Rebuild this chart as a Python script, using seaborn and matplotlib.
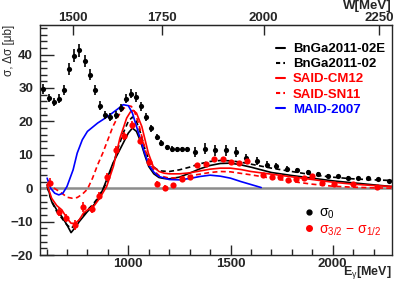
import numpy as np
import pandas as pd
import seaborn as sns
import matplotlib
matplotlib.use("Agg")
import matplotlib.pyplot as plt
from matplotlib.lines import Line2D

# --- data ---
# sigma_0 (black points)
E_sig0 = [582, 610, 636, 662, 687, 712, 736, 761, 789, 812, 836, 861, 887, 911, 938,
          964, 987, 1012, 1038, 1062, 1087, 1113, 1138, 1162, 1189, 1213, 1240, 1264,
          1289, 1327, 1375, 1424, 1478, 1527, 1576, 1628, 1677, 1723, 1775, 1827, 1878,
          1930, 1978, 2024, 2073, 2122, 2171, 2223, 2275]
sig0 = [29.7, 27.0, 25.8, 26.8, 29.4, 35.8, 39.7, 41.3, 38.0, 34.0, 29.3, 24.7, 21.9, 21.3, 22.0,
        24.0, 26.8, 28.3, 27.3, 24.5, 21.2, 17.9, 15.3, 13.5, 12.2, 11.7, 11.6, 11.6,
        11.6, 10.8, 11.8, 11.3, 11.3, 10.7, 9.0, 8.0, 7.0, 6.5, 5.7, 5.3, 4.7,
        4.3, 3.8, 3.7, 3.2, 3.0, 3.0, 2.7, 2.2]
sig0_err = [1.4, 1.3, 1.3, 1.3, 1.5, 1.8, 2.0, 2.0, 1.8, 1.6, 1.5, 1.3, 1.2, 1.2, 1.2,
            1.3, 1.3, 1.4, 1.4, 1.3, 1.2, 1.0, 1.0, 0.9, 0.8, 0.8, 0.8, 0.8,
            0.8, 1.6, 1.6, 1.6, 1.6, 1.5, 1.3, 1.2, 1.0, 0.9, 0.8, 0.7, 0.6,
            0.6, 0.5, 0.4, 0.4, 0.3, 0.3, 0.3, 0.3]

# sigma_3/2 - sigma_1/2 (red points)
E_dsig = [615, 659, 697, 738, 779, 820, 857, 897, 938, 979, 1020, 1059, 1100, 1140, 1180,
          1221, 1263, 1302, 1338, 1380, 1419, 1462, 1501, 1542, 1582, 1660, 1702, 1742,
          1780, 1820, 1860, 1897, 1949, 2008, 2098, 2215]
dsig = [1.7, -7.1, -8.9, -11.1, -5.6, -6.2, -2.3, 3.3, 11.4, 15.6, 19.0, 14.2, 7.7, 1.3, 0.2,
        0.9, 2.7, 3.5, 7.0, 7.3, 8.8, 8.8, 7.8, 7.5, 8.0, 4.0, 3.3, 3.5,
        2.5, 2.8, 3.0, 3.7, 1.7, 1.2, 1.3, 0.5]
dsig_err = [1.3, 1.2, 1.2, 1.5, 1.5, 1.3, 1.2, 1.2, 1.2, 1.2, 1.2, 1.0, 1.0, 0.8, 0.8,
            0.8, 0.6, 0.6, 0.5, 0.5, 0.5, 0.5, 0.5, 0.5, 0.5, 0.4, 0.4, 0.4,
            0.4, 0.4, 0.4, 0.4, 0.4, 0.4, 0.4, 0.4]

# model curves
E_bnga_e = [603, 625, 650, 675, 700, 720, 740, 760, 780, 800, 825, 850, 875, 900, 925, 950,
            975, 1000, 1020, 1040, 1060, 1080, 1100, 1125, 1150, 1175, 1200, 1250, 1300,
            1350, 1400, 1450, 1500, 1550, 1600, 1650, 1700, 1800, 1900, 2000, 2100, 2200, 2290]
bnga_e = [1.0, -4.0, -6.5, -8.5, -11.0, -13.3, -11.8, -10.0, -8.5, -7.0, -5.5, -3.5, -0.5, 3.5,
          7.5, 10.5, 13.5, 16.5, 18.0, 17.0, 14.0, 10.0, 6.5, 4.3, 3.2, 2.9, 2.8, 3.3, 4.5,
          5.8, 6.8, 7.4, 7.5, 7.0, 6.3, 5.5, 4.7, 3.8, 3.0, 2.2, 1.6, 1.0, 0.5]

E_bnga = [603, 625, 650, 675, 700, 720, 740, 760, 780, 800, 825, 850, 875, 900, 925, 950,
          975, 1000, 1020, 1040, 1060, 1080, 1100, 1125, 1150, 1200, 1250, 1300, 1350, 1400,
          1450, 1500, 1550, 1600, 1700, 1800, 1900, 2000, 2100, 2200, 2290]
bnga = [0.5, -4.0, -7.0, -9.0, -11.0, -12.0, -11.0, -9.5, -8.0, -6.5, -5.0, -3.0, -0.5, 2.5,
        7.0, 12.0, 16.5, 20.0, 21.3, 20.0, 16.5, 12.0, 8.5, 6.3, 5.2, 5.0, 5.5, 6.3, 7.3, 8.0,
        8.3, 8.2, 7.8, 7.2, 6.0, 5.0, 4.0, 3.3, 2.8, 2.5, 2.3]

E_cm12 = [603, 625, 650, 675, 700, 720, 740, 760, 780, 800, 830, 860, 894, 927, 959, 992,
          1010, 1024, 1040, 1066, 1082, 1098, 1122, 1150, 1175, 1200, 1250, 1300, 1400,
          1450, 1500, 1550, 1600, 1700, 1800, 1900, 2000, 2100, 2200, 2290]
cm12 = [1.0, -3.0, -5.2, -6.5, -9.0, -10.5, -10.5, -9.5, -7.5, -6.5, -5.5, -3.0, 0.5, 6.5,
        15.0, 21.0, 22.8, 23.3, 22.5, 18.5, 14.5, 10.5, 6.5, 5.0, 4.5, 4.3, 4.3, 4.6, 5.7,
        6.0, 6.0, 5.6, 5.0, 4.2, 3.4, 2.6, 1.8, 1.2, 0.8, 0.5]

E_sn11 = [603, 625, 650, 675, 700, 725, 750, 775, 800, 825, 850, 875, 900, 925, 950, 975,
          1000, 1015, 1030, 1050, 1070, 1090, 1110, 1130, 1150, 1200, 1250, 1300, 1400,
          1450, 1500, 1600, 1700, 1800, 1900, 2000, 2100, 2200, 2290]
sn11 = [1.5, 0.5, -0.5, -1.5, -2.7, -3.0, -2.8, -1.8, -0.3, 3.0, 7.0, 10.5, 14.5, 18.5, 21.5,
        23.8, 24.7, 24.5, 23.0, 19.5, 14.5, 10.0, 7.0, 5.0, 3.8, 3.0, 3.2, 3.7, 4.7,
        5.0, 4.9, 4.0, 3.0, 2.0, 1.2, 0.6, 0.3, 0.1, 0.0]

E_maid = [603, 620, 640, 660, 680, 700, 715, 730, 750, 775, 800, 850, 900, 950, 975, 1000,
          1020, 1040, 1060, 1080, 1100, 1125, 1150, 1200, 1250, 1300, 1350, 1400, 1450,
          1500, 1550, 1600, 1650]
maid = [3.0, 0.0, -1.5, -2.0, -1.5, 0.5, 3.0, 5.5, 10.5, 14.5, 17.0, 19.5, 21.5, 23.8, 25.0,
        24.7, 22.5, 18.5, 14.5, 10.5, 7.0, 4.8, 3.5, 2.6, 2.5, 2.9, 3.5, 3.9, 3.6,
        3.0, 2.0, 1.1, 0.2]

MP = 938.27  # proton mass, for W axis


def e_to_w(e):
    return np.sqrt(np.clip(MP**2 + 2 * MP * np.asarray(e, dtype=float), 0, None))


def w_to_e(w):
    w = np.asarray(w, dtype=float)
    return (w**2 - MP**2) / (2 * MP)


# --- style ---
sns.set_style("ticks")
plt.rcParams['font.family'] = ['Liberation Sans', 'DejaVu Sans']
plt.rcParams['mathtext.fontset'] = 'custom'
plt.rcParams['mathtext.rm'] = 'Liberation Sans'
plt.rcParams['mathtext.it'] = 'Liberation Sans'
plt.rcParams['mathtext.bf'] = 'Liberation Sans:bold'

fig = plt.figure(figsize=(4.06, 2.82), dpi=100)
ax = fig.add_axes([0.0985, 0.0957, 0.867, 0.8174])

ax.axhline(0, color='#8c8c8c', lw=1.8, zorder=1)

curves = [
    (E_bnga_e, bnga_e, 'BnGa2011-02E', 'black', '-'),
    (E_bnga, bnga, 'BnGa2011-02', 'black', (0, (3, 2))),
    (E_cm12, cm12, 'SAID-CM12', 'red', '-'),
    (E_sn11, sn11, 'SAID-SN11', 'red', (0, (3, 2))),
    (E_maid, maid, 'MAID-2007', 'blue', '-'),
]
line_handles = []
for xs, ys, name, col, ls in curves:
    df = pd.DataFrame({'E': xs, 'v': ys})
    sns.lineplot(data=df, x='E', y='v', ax=ax, color=col, lw=1.2, linestyle=ls,
                 sort=False, zorder=3)
    line_handles.append(Line2D([0], [0], color=col, lw=1.5, linestyle='-' if ls == '-' else (0, (2, 1.5))))

# data points
ax.errorbar(E_sig0, sig0, yerr=sig0_err, fmt='none', ecolor='black', elinewidth=1.2, zorder=4)
sns.scatterplot(x=E_sig0, y=sig0, ax=ax, color='black', s=14, linewidth=0, zorder=5)
ax.errorbar(E_dsig, dsig, yerr=dsig_err, fmt='none', ecolor='red', elinewidth=1.2, zorder=4)
sns.scatterplot(x=E_dsig, y=dsig, ax=ax, color='red', s=20, linewidth=0, zorder=5)

ax.set_xlim(568, 2290)
ax.set_ylim(-20, 49)

# ticks
ax.set_xticks([1000, 1500, 2000])
ax.set_xticks(np.arange(600, 2300, 100), minor=True)
ax.set_yticks([-20, -10, 0, 10, 20, 30, 40])
ax.set_yticks(np.arange(-20, 49, 2), minor=True)
ax.tick_params(axis='both', which='both', direction='in', top=False, right=False)
ax.tick_params(axis='x', which='major', length=7, width=1, pad=2, labelsize=9.5)
ax.tick_params(axis='x', which='minor', length=4, width=1)
ax.tick_params(axis='y', which='major', length=10, width=1, pad=5, labelsize=9.5)
ax.tick_params(axis='y', which='minor', length=5, width=1)
for lab in ax.get_xticklabels() + ax.get_yticklabels():
    lab.set_fontweight('bold')
for sp in ax.spines.values():
    sp.set_linewidth(1.0)

secax = ax.secondary_xaxis('top', functions=(e_to_w, w_to_e))
secax.set_xticks([1500, 1750, 2000, 2250])
secax.tick_params(axis='x', which='major', direction='in', length=7, width=1, pad=0.5, labelsize=9.5)
secax.tick_params(axis='x', which='minor', length=0)
for lab in secax.get_xticklabels():
    lab.set_fontweight('bold')
fig.text(392 / 406, 1 - 0.5 / 282, 'W[MeV]', fontsize=9.5, fontweight='bold',
         ha='right', va='top')

ax.set_xlabel(r'E$_{\gamma}$[MeV]', fontsize=9, fontweight='bold', loc='right')
ax.xaxis.set_label_coords(1.0, -0.04)
ax.set_ylabel('σ, Δσ [μb]', fontsize=8.5, loc='top')
ax.yaxis.set_label_coords(-0.072, 1.0)

# legends
leg1 = ax.legend(line_handles, [c[2] for c in curves], loc='upper left',
                 bbox_to_anchor=(0.67, 0.92), frameon=False,
                 handlelength=0.7, handletextpad=0.6, labelspacing=0.22,
                 borderpad=0, borderaxespad=0,
                 labelcolor=[c[3] for c in curves], prop={'weight': 'bold', 'size': 9.5})
ax.add_artist(leg1)

pt_handles = [Line2D([0], [0], marker='o', color='black', ms=3.5, lw=0),
              Line2D([0], [0], marker='o', color='red', ms=4, lw=0)]
leg2 = ax.legend(pt_handles, [r'σ$_0$', r'σ$_{3/2}$ − σ$_{1/2}$'], loc='upper left',
                 bbox_to_anchor=(0.755, 0.215), frameon=False, fontsize=10,
                 handlelength=0.5, handletextpad=0.45, labelspacing=0.1,
                 borderpad=0, borderaxespad=0, labelcolor=['black', 'red'])

fig.savefig('out.png', dpi=100)
